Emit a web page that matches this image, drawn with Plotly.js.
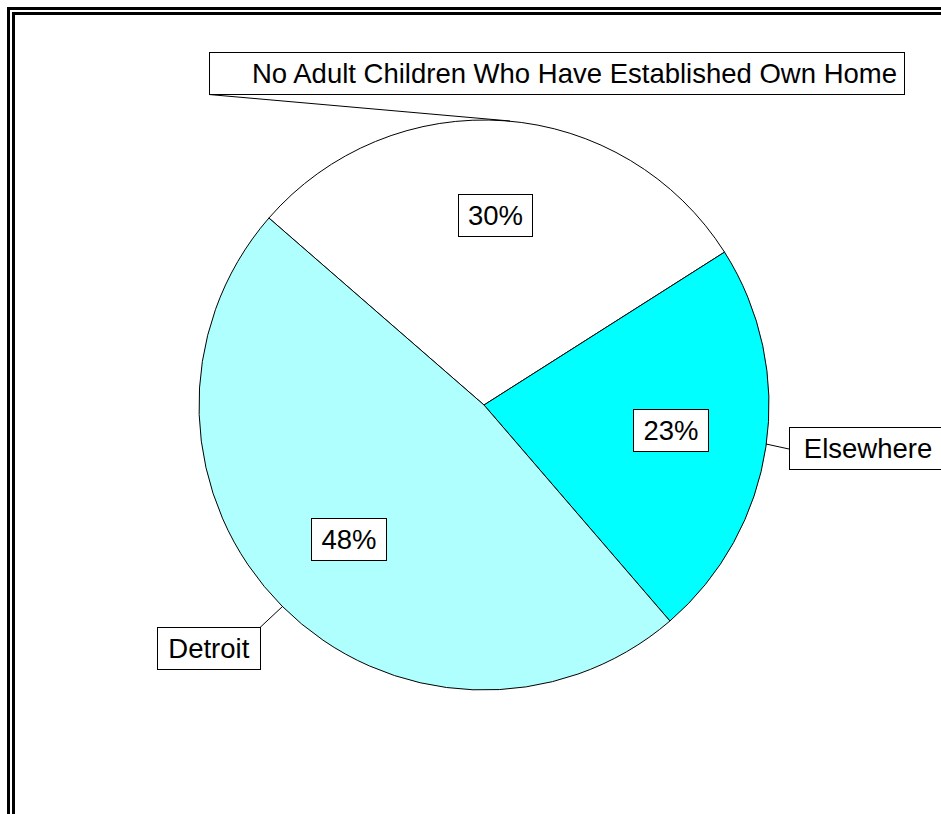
<!DOCTYPE html>
<html>
<head>
<meta charset="utf-8">
<script src="https://cdn.plot.ly/plotly-3.0.1.min.js"></script>
<style>html,body{margin:0;padding:0;background:#fff;}#chart{width:941px;height:814px;}</style>
</head>
<body>
<div id="chart"></div>
<script>
// ---- data ----
var categories = ["No Adult Children Who Have Established Own Home", "Elsewhere", "Detroit"];
var shortLabels = ["No Adult Children Who Have Established Own Home", "Elsewhere", "Detroit"];
var values = [29.6, 22.7, 47.7];
var colors = ["#FFFFFF", "#00FFFF", "#B0FFFF"];

var W = 941, H = 814;
function px(x) { return x / W; }
function py(y) { return 1 - y / H; }

var total = values.reduce(function (a, b) { return a + b; }, 0);
var pctText = values.map(function (v) { return Math.round(v / total * 100) + "%"; });

var FONT = {family: "Liberation Sans, Arial, sans-serif", size: 27.5, color: "#000"};

var trace = {
  type: "pie",
  labels: categories,
  values: values,
  sort: false,
  direction: "clockwise",
  rotation: -49,
  marker: {colors: colors, line: {color: "#000", width: 1}},
  textinfo: "none",
  hoverinfo: "skip",
  showlegend: false,
  domain: {x: [px(199), px(769)], y: [py(690), py(120)]}
};

function box(text, cx, cy, w, opts) {
  var a = {
    xref: "paper", yref: "paper", x: px(cx), y: py(cy),
    xanchor: "center", yanchor: "middle",
    text: text, showarrow: false, font: FONT,
    bgcolor: "#FFFFFF", bordercolor: "#000", borderwidth: 1, borderpad: 4,
    width: w, height: 33, align: "center"
  };
  if (opts) for (var k in opts) a[k] = opts[k];
  return a;
}

var annotations = [
  // percentage boxes
  box(pctText[0], 496, 216, 65),
  box(pctText[1], 671, 430, 66),
  box(pctText[2], 349, 539, 66),
  // category boxes
  box(shortLabels[0], 557, 73.5, 680, {align: "right", borderpad: 7, height: 27}),
  box(shortLabels[1], 868, 448.5, 148),
  box(shortLabels[2], 209, 648.5, 94)
];

function seg(x0, y0, x1, y1, w) {
  return {type: "line", xref: "paper", yref: "paper",
    x0: px(x0), y0: py(y0), x1: px(x1), y1: py(y1),
    line: {color: "#000", width: w || 1}};
}

var shapes = [
  // leader lines
  seg(209, 94.5, 510, 121),
  seg(766, 444, 789, 449),
  seg(260, 627.5, 283, 606),
  // double frame
  seg(8.5, 8.5, 8.5, 900, 3),
  seg(7, 8.5, 1000, 8.5, 3),
  seg(13.5, 13.5, 13.5, 900, 3),
  seg(12, 13.5, 1000, 13.5, 3)
];

var layout = {
  width: W, height: H,
  margin: {l: 0, r: 0, t: 0, b: 0},
  paper_bgcolor: "#FFFFFF",
  plot_bgcolor: "#FFFFFF",
  showlegend: false,
  hovermode: false,
  annotations: annotations,
  shapes: shapes
};

Plotly.newPlot("chart", [trace], layout, {displayModeBar: false, staticPlot: true});
</script>
</body>
</html>
